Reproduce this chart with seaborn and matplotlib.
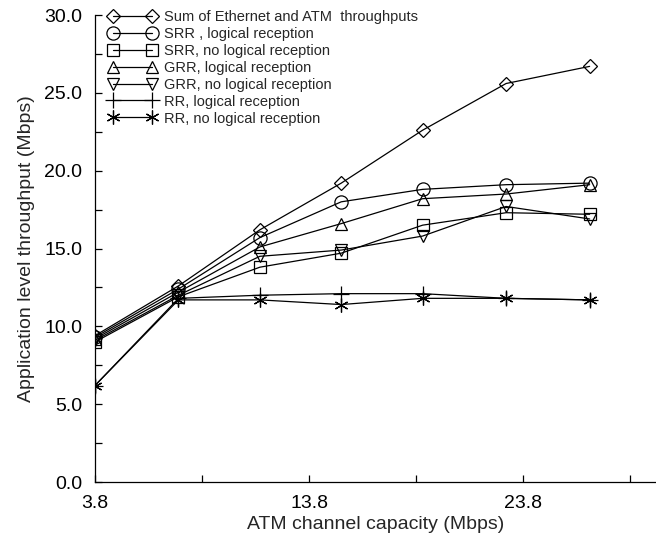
import matplotlib
matplotlib.use("Agg")
import matplotlib.pyplot as plt
import seaborn as sns
import pandas as pd
from matplotlib.ticker import MultipleLocator, FixedLocator, FormatStrFormatter

# ATM channel capacity (Mbps)
capacity = [3.8, 7.7, 11.5, 15.3, 19.1, 23.0, 26.9]

# application level throughput (Mbps)
sum_eth_atm = [9.4, 12.6, 16.2, 19.2, 22.6, 25.6, 26.7]
srr_logical = [9.3, 12.4, 15.7, 18.0, 18.8, 19.1, 19.2]
srr_nolog = [9.0, 11.9, 13.8, 14.7, 16.5, 17.3, 17.2]
grr_logical = [9.2, 12.2, 15.1, 16.6, 18.2, 18.5, 19.1]
grr_nolog = [9.1, 12.0, 14.5, 14.9, 15.8, 17.7, 16.9]
rr_logical = [6.2, 11.8, 12.0, 12.1, 12.1, 11.8, 11.7]
rr_nolog = [6.2, 11.7, 11.7, 11.4, 11.8, 11.8, 11.7]

labels = ["Sum of Ethernet and ATM  throughputs",
          "SRR , logical reception",
          "SRR, no logical reception",
          "GRR, logical reception",
          "GRR, no logical reception",
          "RR, logical reception",
          "RR, no logical reception"]

series = [sum_eth_atm, srr_logical, srr_nolog, grr_logical, grr_nolog, rr_logical, rr_nolog]
markers = ["D", "o", "s", "^", "v", "+", (6, 2, 0)]
msizes = [7, 9.5, 8.5, 9, 9, 11, 10]

sns.set_style("ticks")
plt.rcParams['font.family'] = ['Liberation Sans', 'DejaVu Sans']

fig = plt.figure(figsize=(6.56, 5.36), dpi=100)
ax = fig.add_axes([0.1448, 0.1007, 0.8552, 0.8713])

for vals, lab, mk, ms in zip(series, labels, markers, msizes):
    df = pd.DataFrame({"x": capacity, "y": vals})
    sns.lineplot(data=df, x="x", y="y", ax=ax, color="black", linewidth=0.9,
                 marker=mk, markersize=ms, markerfacecolor="none",
                 markeredgecolor="black", markeredgewidth=0.9, label=lab)

ax.set_xlim(3.8, 30.0)
ax.set_ylim(0, 30)
ax.xaxis.set_major_locator(FixedLocator([3.8, 13.8, 23.8]))
ax.xaxis.set_minor_locator(FixedLocator([8.8, 18.8, 28.8]))
ax.xaxis.set_major_formatter(FormatStrFormatter('%.1f'))
ax.yaxis.set_major_locator(MultipleLocator(5))
ax.yaxis.set_minor_locator(MultipleLocator(2.5))
ax.yaxis.set_major_formatter(FormatStrFormatter('%.1f'))

ax.tick_params(axis='both', which='both', direction='in', length=5, width=0.9, colors='black')
ax.tick_params(axis='y', which='major', labelsize=14, pad=9)
ax.tick_params(axis='x', which='major', labelsize=14, pad=9)

ax.set_xlabel("ATM channel capacity (Mbps)", fontsize=14, labelpad=3)
ax.set_ylabel("Application level throughput (Mbps)", fontsize=14, labelpad=7)

for side in ['top', 'right']:
    ax.spines[side].set_visible(False)
for side in ['left', 'bottom']:
    ax.spines[side].set_linewidth(0.9)
    ax.spines[side].set_color('black')

ax.legend(loc='upper left', bbox_to_anchor=(108.6 / 656, 1 - 10 / 536),
          bbox_transform=fig.transFigure, frameon=False, fontsize=10.5,
          numpoints=2, handlelength=3.3, handletextpad=0.5, labelspacing=0.2,
          borderpad=0, borderaxespad=0)

fig.savefig("out.png", dpi=100)
